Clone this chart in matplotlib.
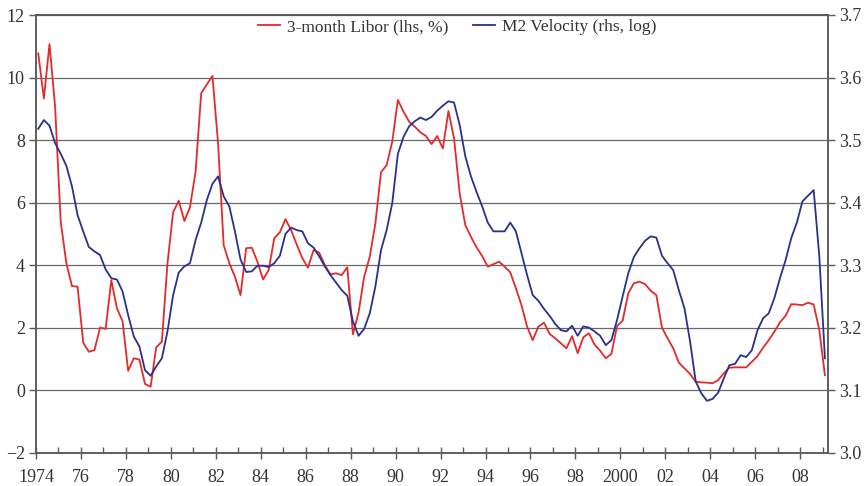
import matplotlib
matplotlib.use("Agg")
import matplotlib.pyplot as plt
import numpy as np

# Quarterly data, 1974Q1 - 2009Q1
start_year = 1974.1
libor = [
    10.77, 9.33, 11.07, 9.07,   # 1974
    5.39, 4.06, 3.33, 3.31,     # 1975
    1.52, 1.23, 1.28, 2.00,     # 1976
    1.96, 3.52, 2.62, 2.21,     # 1977
    0.62, 1.02, 0.98, 0.20,     # 1978
    0.11, 1.37, 1.55, 4.06,     # 1979
    5.69, 6.06, 5.41, 5.85,     # 1980
    6.99, 9.50, 9.78, 10.05,    # 1981
    7.90, 4.64, 4.06, 3.63,     # 1982
    3.04, 4.54, 4.56, 4.11,     # 1983
    3.54, 3.84, 4.86, 5.05,     # 1984
    5.47, 5.12, 4.66, 4.22,     # 1985
    3.92, 4.48, 4.40, 4.00,     # 1986
    3.70, 3.74, 3.68, 3.93,     # 1987
    1.79, 2.48, 3.63, 4.27,     # 1988
    5.34, 6.97, 7.20, 7.95,     # 1989
    9.28, 8.91, 8.59, 8.43,     # 1990
    8.25, 8.13, 7.87, 8.13,     # 1991
    7.73, 8.93, 8.05, 6.29,     # 1992
    5.28, 4.91, 4.57, 4.29,     # 1993
    3.95, 4.03, 4.11, 3.95,     # 1994
    3.77, 3.26, 2.72, 2.03,     # 1995
    1.60, 2.03, 2.16, 1.80,     # 1996
    1.66, 1.50, 1.34, 1.73,     # 1997
    1.18, 1.69, 1.82, 1.46,     # 1998
    1.26, 1.02, 1.16, 2.05,     # 1999
    2.22, 3.10, 3.42, 3.47,     # 2000
    3.39, 3.18, 3.04, 2.00,     # 2001
    1.66, 1.34, 0.88, 0.70,     # 2002
    0.52, 0.27, 0.25, 0.24,     # 2003
    0.22, 0.32, 0.54, 0.72,     # 2004
    0.73, 0.73, 0.73, 0.91,     # 2005
    1.09, 1.36, 1.60, 1.87,     # 2006
    2.17, 2.38, 2.75, 2.74,     # 2007
    2.72, 2.80, 2.74, 1.92,     # 2008
    0.48,                       # 2009
]
m2_velocity = [
    3.518, 3.532, 3.523, 3.495,  # 1974
    3.478, 3.459, 3.426, 3.380,  # 1975
    3.354, 3.329, 3.322, 3.316,  # 1976
    3.293, 3.279, 3.277, 3.258,  # 1977
    3.220, 3.186, 3.170, 3.132,  # 1978
    3.123, 3.138, 3.151, 3.194,  # 1979
    3.252, 3.288, 3.298, 3.303,  # 1980
    3.340, 3.368, 3.404, 3.430,  # 1981
    3.442, 3.410, 3.394, 3.354,  # 1982
    3.309, 3.289, 3.290, 3.299,  # 1983
    3.299, 3.297, 3.303, 3.315,  # 1984
    3.350, 3.360, 3.356, 3.354,  # 1985
    3.335, 3.328, 3.314, 3.298,  # 1986
    3.284, 3.272, 3.260, 3.251,  # 1987
    3.210, 3.187, 3.198, 3.223,  # 1988
    3.266, 3.324, 3.356, 3.399,  # 1989
    3.478, 3.505, 3.522, 3.530,  # 1990
    3.536, 3.532, 3.537, 3.547,  # 1991
    3.555, 3.562, 3.560, 3.524,  # 1992
    3.474, 3.442, 3.417, 3.394,  # 1993
    3.368, 3.354, 3.354, 3.354,  # 1994
    3.368, 3.354, 3.319, 3.284,  # 1995
    3.252, 3.243, 3.230, 3.219,  # 1996
    3.206, 3.196, 3.194, 3.203,  # 1997
    3.187, 3.202, 3.200, 3.194,  # 1998
    3.187, 3.172, 3.180, 3.212,  # 1999
    3.250, 3.287, 3.313, 3.327,  # 2000
    3.339, 3.346, 3.344, 3.315,  # 2001
    3.303, 3.292, 3.260, 3.231,  # 2002
    3.178, 3.114, 3.095, 3.083,  # 2003
    3.086, 3.096, 3.119, 3.140,  # 2004
    3.142, 3.156, 3.153, 3.164,  # 2005
    3.196, 3.215, 3.223, 3.247,  # 2006
    3.279, 3.308, 3.343, 3.368,  # 2007
    3.402, 3.411, 3.420, 3.314,  # 2008
    3.151,                       # 2009
]
x_major = list(range(1974, 2009, 2))
x_labels = ["1974", "76", "78", "80", "82", "84", "86", "88", "90", "92",
            "94", "96", "98", "2000", "02", "04", "06", "08"]
left_ticks = [-2, 0, 2, 4, 6, 8, 10, 12]
right_ticks = [3.0, 3.1, 3.2, 3.3, 3.4, 3.5, 3.6, 3.7]

plt.rcParams['font.family'] = ['Liberation Serif', 'DejaVu Serif']

RED = '#E42A2A'
BLUE = '#2B2F8E'
SPINE = '#5a5a5a'
TXT = '#333333'

dates = start_year + 0.25 * np.arange(len(libor))

fig = plt.figure(figsize=(8.66, 4.86), dpi=100)
ax = fig.add_axes([36/866, 1-452.7/486, (828.3-36)/866, (452.7-15)/486])
ax2 = ax.twinx()

l1, = ax.plot(dates, libor, color=RED, lw=1.3, label='3-month Libor (lhs, %)', zorder=3)
l2, = ax2.plot(dates, m2_velocity, color=BLUE, lw=1.3, label='M2 Velocity (rhs, log)', zorder=3)

ax.set_xlim(1974, 2009.25)
ax.set_ylim(-2, 12)
ax2.set_ylim(3.0, 3.7)

ax.set_yticks(left_ticks)
ax.set_yticklabels([("\u2212" + str(-t)) if t < 0 else str(t) for t in left_ticks])
ax2.set_yticks(right_ticks)
ax2.set_yticklabels([f"{t:.1f}" for t in right_ticks])

ax.set_xticks(x_major)
ax.set_xticklabels(x_labels)
ax.set_xticks(list(range(1975, 2010, 2)), minor=True)

for a in (ax, ax2):
    for s in a.spines.values():
        s.set_color(SPINE)
        s.set_linewidth(1.1)

ax.grid(axis='y', color='#6a6a6a', lw=0.9, zorder=0)
ax.set_axisbelow(True)

ax.tick_params(axis='x', which='major', direction='inout', length=8, width=1, color=SPINE,
               labelsize=13, labelcolor=TXT, pad=8)
ax.tick_params(axis='x', which='minor', direction='in', length=4, width=1, color=SPINE)
ax.tick_params(axis='y', direction='out', length=5, width=1, color=SPINE,
               labelsize=13, labelcolor=TXT, pad=3)
ax2.tick_params(axis='y', direction='out', length=5, width=1, color=SPINE,
                labelsize=13, labelcolor=TXT, pad=3)

leg = fig.legend(handles=[l1, l2], loc='center', bbox_to_anchor=(0.528, 0.944),
                 ncol=2, frameon=False, fontsize=12.5, handlelength=1.3,
                 handletextpad=0.4, columnspacing=1.4)
for t in leg.get_texts():
    t.set_color(TXT)

fig.savefig('out.png', dpi=100)
